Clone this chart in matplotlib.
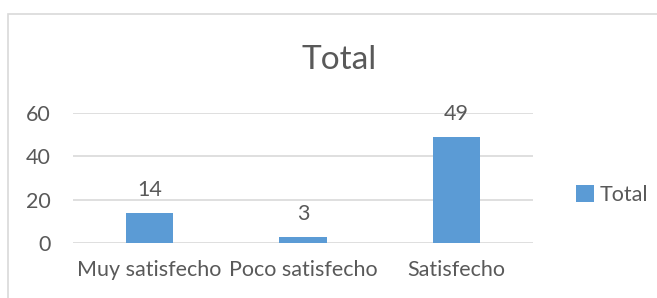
import matplotlib.pyplot as plt
from matplotlib.patches import Rectangle

categories = ["Muy satisfecho", "Poco satisfecho", "Satisfecho"]
values = [14, 3, 49]
yticks = [0, 20, 40, 60]
series_name = "Total"

W, H = 657, 298
plt.rcParams['font.family'] = ['Lato', 'DejaVu Sans']
txt = '#595959'
blue = '#5B9BD5'
fs = 15.5

fig = plt.figure(figsize=(W / 100, H / 100), dpi=100)

# outer chart border (cut off right and bottom in the reference)
fig.patches.append(Rectangle((8 / W, -0.1), 1.2, (H - 14) / H + 0.1, transform=fig.transFigure,
                             fill=False, edgecolor='#D9D9D9', linewidth=1.2))

ax = fig.add_axes([73 / W, 55 / H, 460 / W, 130 / H])
x = list(range(len(categories)))
bars = ax.bar(x, values, width=0.31, color=blue, label=series_name, zorder=3)
ax.set_xlim(-0.5, len(categories) - 0.5)
ax.set_ylim(0, 60)
ax.set_yticks(yticks)
ax.set_xticks(x)
ax.set_xticklabels(categories, fontsize=fs, color=txt)
ax.tick_params(axis='y', labelsize=fs, labelcolor=txt, length=0, pad=16)
ax.tick_params(axis='x', length=0, pad=12)
ax.grid(axis='y', color='#D9D9D9', linewidth=1.2, zorder=0)
for s in ax.spines.values():
    s.set_visible(False)

for b, v in zip(bars, values):
    ax.annotate(str(v), (b.get_x() + b.get_width() / 2, v), xytext=(0, 9),
                textcoords='offset points', ha='center', va='bottom', fontsize=fs, color=txt)

fig.text(339 / W, 1 - 60 / H, "Total", ha='center', va='center', fontsize=24, color=txt)

fig.legend(handles=[bars], labels=[series_name], loc='center left', bbox_to_anchor=(557 / W, 1 - 195 / H),
           frameon=False, fontsize=fs, labelcolor=txt, handlelength=0.8, handleheight=0.8, handletextpad=0.3)

fig.savefig('out.png', dpi=100)
